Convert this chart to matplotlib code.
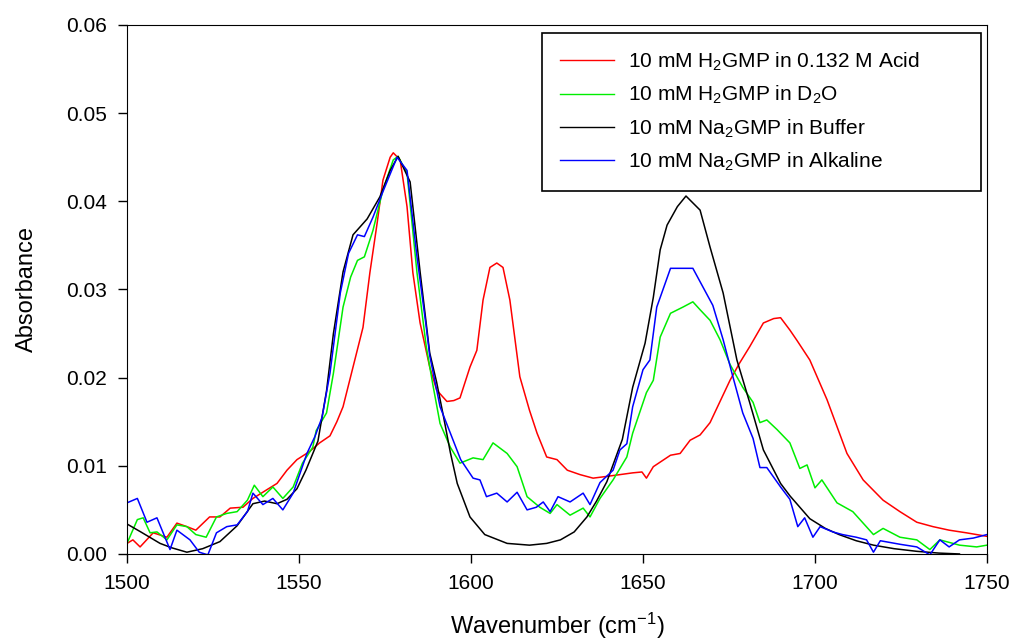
import numpy as np
import matplotlib
matplotlib.use('Agg')
import matplotlib.pyplot as plt

plt.rcParams['font.family'] = ['Liberation Sans', 'DejaVu Sans']
plt.rcParams['mathtext.default'] = 'regular'

# 10 mM H2GMP in 0.132 M acid
acid_x = [1500, 1501.7, 1503.8, 1507.6, 1511.6, 1514.5, 1517.4, 1520, 1524, 1527, 1530, 1533.7, 1536.6,
          1540.7, 1543.6, 1546.5, 1549.4, 1553, 1556, 1559, 1561, 1562.8, 1565.7, 1568.6, 1570.6, 1572.7,
          1574.4, 1576.5, 1577.4, 1579.4, 1581.4, 1583.1, 1585.2, 1588, 1590, 1593, 1595, 1596.8, 1599.7,
          1601.7, 1603.5, 1605.5, 1607.5, 1609.3, 1611.3, 1614.2, 1617, 1619.2, 1622, 1625, 1628, 1631.7,
          1635.5, 1639.5, 1643.3, 1647, 1649.7, 1651, 1653, 1658, 1660.8, 1663.7, 1666.6, 1669.5, 1672.4,
          1675.3, 1678, 1681, 1685, 1688, 1690, 1692.7, 1694.8, 1698.5, 1703.5, 1709.3, 1714, 1719.8,
          1724.7, 1729.6, 1734.3, 1739, 1744, 1750]
acid_y = [0.0012, 0.0016, 0.0008, 0.0024, 0.0019, 0.0035, 0.0031, 0.0027, 0.0042, 0.0042, 0.0052, 0.0053, 0.0063,
          0.0073, 0.0080, 0.0095, 0.0107, 0.0116, 0.0126, 0.0134, 0.0150, 0.0167, 0.0212, 0.0257, 0.0319, 0.0375,
          0.0424, 0.0450, 0.0455, 0.0447, 0.0394, 0.0319, 0.0262, 0.0212, 0.0186, 0.0173, 0.0174, 0.0177, 0.0212,
          0.0231, 0.0288, 0.0325, 0.0330, 0.0325, 0.0288, 0.0201, 0.0163, 0.0137, 0.0110, 0.0107, 0.0095, 0.0090,
          0.0086, 0.0088, 0.0090, 0.0092, 0.0093, 0.0086, 0.0099, 0.0112, 0.0114, 0.0129, 0.0135, 0.0149, 0.0173,
          0.0197, 0.0216, 0.0235, 0.0262, 0.0267, 0.0268, 0.0254, 0.0242, 0.0220, 0.0175, 0.0114, 0.0084, 0.0061,
          0.0048, 0.0036, 0.0031, 0.0027, 0.0024, 0.0020]

# 10 mM H2GMP in D2O
d2o_x = [1500, 1503, 1504.7, 1506.7, 1508.7, 1511.6, 1514.5, 1517.4, 1520, 1523, 1526, 1529, 1532, 1535,
         1537, 1539.5, 1542.4, 1545.3, 1548.3, 1551, 1554, 1555, 1558, 1560, 1562.8, 1565, 1567, 1569,
         1571.5, 1574.4, 1577.4, 1578.8, 1581.4, 1584.3, 1587, 1589, 1591, 1594, 1596.8, 1600.6, 1603.5,
         1606.4, 1610.5, 1613.4, 1616.3, 1620, 1623, 1625, 1628.8, 1632.6, 1634.6, 1637.5, 1641.3, 1645.3,
         1647, 1649, 1651, 1653, 1655, 1658, 1661.6, 1664.5, 1666.6, 1669.5, 1672.4, 1675.3, 1679, 1682,
         1684, 1686, 1689, 1692.7, 1695.6, 1697.7, 1700, 1702, 1706.4, 1711, 1717, 1719.8, 1724.7, 1729.6,
         1733.4, 1736.3, 1742, 1747, 1750]
d2o_y = [0.0012, 0.0039, 0.0041, 0.0024, 0.0025, 0.0016, 0.0033, 0.0031, 0.0022, 0.0019, 0.0042, 0.0046, 0.0048, 0.0061,
         0.0078, 0.0065, 0.0076, 0.0063, 0.0076, 0.0103, 0.0121, 0.0140, 0.0160, 0.0205, 0.0280, 0.0314, 0.0333, 0.0337,
         0.0367, 0.0413, 0.0447, 0.0451, 0.0432, 0.0319, 0.0235, 0.0190, 0.0148, 0.0121, 0.0103, 0.0109, 0.0107,
         0.0126, 0.0114, 0.0099, 0.0065, 0.0053, 0.0046, 0.0056, 0.0044, 0.0052, 0.0042, 0.0063, 0.0084, 0.0110,
         0.0137, 0.0160, 0.0183, 0.0197, 0.0246, 0.0273, 0.0280, 0.0286, 0.0277, 0.0265, 0.0243, 0.0215, 0.0189, 0.0172,
         0.0149, 0.0152, 0.0141, 0.0126, 0.0097, 0.0101, 0.0075, 0.0084, 0.0058, 0.0048, 0.0022, 0.0029, 0.0019, 0.0016,
         0.0005, 0.0016, 0.0010, 0.0008, 0.0010]

# 10 mM Na2GMP in buffer
buf_x = [1500, 1504, 1509.6, 1513, 1517.4, 1522, 1527, 1532, 1536.6, 1540, 1543.6, 1546.5, 1549.4, 1552,
         1555.5, 1558, 1560, 1562.8, 1565.7, 1569.8, 1573.5, 1576.5, 1578.8, 1582.3, 1585.2, 1588, 1590,
         1592, 1594, 1596, 1599.7, 1604, 1610.5, 1617, 1622, 1626, 1630, 1633.7, 1636.5, 1639.5, 1644,
         1647, 1650.6, 1653, 1655, 1657, 1660, 1662.5, 1666.6, 1669.5, 1673.3, 1677.3, 1681, 1685, 1690,
         1692.7, 1698.5, 1703, 1707, 1712, 1717, 1723, 1729.6, 1736, 1742]
buf_y = [0.0034, 0.0025, 0.0012, 0.0007, 0.0002, 0.0006, 0.0014, 0.0032, 0.0057, 0.0060, 0.0057, 0.0062, 0.0074, 0.0095,
         0.0128, 0.0185, 0.0250, 0.0320, 0.0362, 0.0380, 0.0405, 0.0435, 0.0451, 0.0422, 0.0320, 0.0228, 0.0195,
         0.0156, 0.0115, 0.0080, 0.0042, 0.0022, 0.0012, 0.0010, 0.0012, 0.0016, 0.0025, 0.0042, 0.0060, 0.0082, 0.0130,
         0.0189, 0.0239, 0.0291, 0.0345, 0.0373, 0.0394, 0.0406, 0.0390, 0.0348, 0.0296, 0.0220, 0.0172, 0.0118, 0.0080,
         0.0066, 0.0040, 0.0029, 0.0022, 0.0015, 0.0010, 0.0006, 0.0003, 0.0001, 0.0]

# 10 mM Na2GMP in alkaline
alk_x = [1500, 1503, 1505.8, 1508.7, 1512.5, 1514.5, 1518.3, 1521, 1523.5, 1526, 1529, 1532, 1535, 1536.6,
         1539.5, 1542.4, 1545.3, 1548.3, 1552.3, 1554.6, 1556.7, 1559, 1562, 1564.4, 1567, 1569, 1571.5,
         1574.4, 1578.5, 1581.4, 1584.3, 1587, 1588, 1591, 1594, 1597, 1600.6, 1602.6, 1604.5, 1607.5,
         1610.5, 1613.4, 1616.3, 1619, 1621, 1623, 1625.3, 1628.8, 1632.6, 1634.6, 1637.5, 1641.3, 1643.3,
         1645.3, 1647, 1650, 1652, 1654, 1658, 1661.6, 1664.5, 1667.4, 1670.3, 1673.3, 1676, 1679, 1682,
         1684, 1686, 1690, 1692.7, 1695, 1697, 1699.4, 1701.5, 1705.2, 1708, 1712, 1715, 1717, 1719,
         1724.7, 1729.6, 1733.4, 1736.3, 1739, 1742, 1746, 1750]
alk_y = [0.0058, 0.0063, 0.0036, 0.0041, 0.0005, 0.0027, 0.0016, 0.0002, -0.0001, 0.0024, 0.0031, 0.0033, 0.0048, 0.0069,
         0.0056, 0.0063, 0.0050, 0.0069, 0.0114, 0.0133, 0.0155, 0.0205, 0.0296, 0.0341, 0.0362, 0.0360, 0.0382,
         0.0411, 0.0450, 0.0435, 0.0337, 0.0257, 0.0225, 0.0167, 0.0137, 0.0107, 0.0086, 0.0084, 0.0065, 0.0069,
         0.0059, 0.0070, 0.0050, 0.0053, 0.0059, 0.0048, 0.0065, 0.0059, 0.0069, 0.0056, 0.0081, 0.0095, 0.0118,
         0.0125, 0.0167, 0.0209, 0.0220, 0.0280, 0.0324, 0.0324, 0.0324, 0.0303, 0.0282, 0.0243, 0.0203, 0.0160, 0.0131,
         0.0098, 0.0098, 0.0076, 0.0062, 0.0031, 0.0041, 0.0019, 0.0031, 0.0025, 0.0022, 0.0019, 0.0016, 0.0002, 0.0015,
         0.0011, 0.0008, -0.0001, 0.0016, 0.0008, 0.0016, 0.0018, 0.0022]

labels = ['10 mM H$_2$GMP in 0.132 M Acid',
          '10 mM H$_2$GMP in D$_2$O',
          '10 mM Na$_2$GMP in Buffer',
          '10 mM Na$_2$GMP in Alkaline']

fig = plt.figure(figsize=(10.13, 6.44), dpi=100)
ax = fig.add_axes([0.1254, 0.1398, 0.8489, 0.8214])

ax.plot(acid_x, acid_y, color='#ff0000', lw=1.1, label=labels[0])
ax.plot(d2o_x, d2o_y, color='#00ee00', lw=1.1, label=labels[1])
ax.plot(buf_x, buf_y, color='black', lw=1.1, label=labels[2])
ax.plot(alk_x, alk_y, color='#0000ff', lw=1.1, label=labels[3])

ax.set_xlim(1500, 1750)
ax.set_ylim(0, 0.06)
ax.set_xticks(np.arange(1500, 1751, 50))
ax.set_yticks(np.arange(0, 0.061, 0.01))
ax.set_yticklabels(['%.2f' % v for v in np.arange(0, 0.061, 0.01)])
ax.tick_params(direction='out', length=6.5, width=1, labelsize=15, pad=8)

ax.set_xlabel('Wavenumber (cm$^{-1}$)', fontsize=17, labelpad=13)
ax.set_ylabel('Absorbance', fontsize=17, labelpad=20)

leg = ax.legend(loc='upper left', bbox_to_anchor=(0.4826, 0.69, 0.5104, 0.295), mode='expand',
                borderaxespad=0, fancybox=False, framealpha=1, edgecolor='black', fontsize=15,
                handlelength=2.6, handletextpad=0.7, labelspacing=0.53, borderpad=0.85)
leg.get_frame().set_linewidth(1.2)
for l in leg.get_lines():
    l.set_linewidth(1.0)

fig.savefig('out.png', dpi=100)
